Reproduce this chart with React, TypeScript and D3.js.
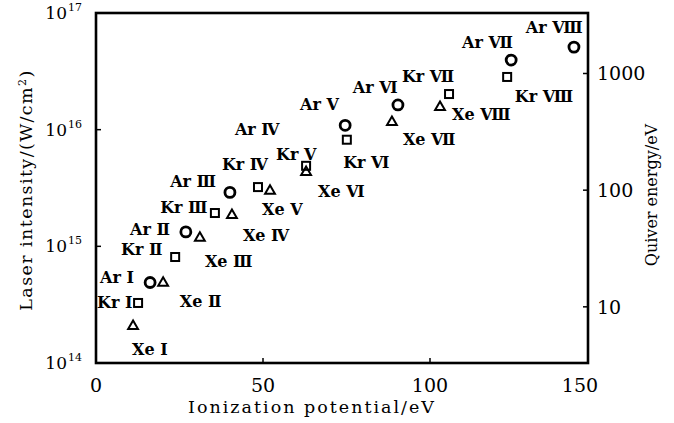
import * as d3 from "d3";

// ionization potential (eV) and threshold intensity (W/cm^2)
const arIp = [16.2, 26.9, 40.1, 74.6, 90.4, 124.3, 143.1];
const arI = [4.9e14, 1.33e15, 2.9e15, 1.09e16, 1.63e16, 3.95e16, 5.1e16];

const krIp = [12.6, 23.7, 35.6, 48.5, 62.9, 75.1, 105.7, 123.1];
const krI = [3.27e14, 8.1e14, 1.93e15, 3.22e15, 4.9e15, 8.2e15, 2.02e16, 2.83e16];

const xeIp = [11.1, 20.1, 31.1, 40.7, 52.1, 62.9, 88.6, 103.0];
const xeI = [2.07e14, 4.85e14, 1.18e15, 1.85e15, 2.98e15, 4.33e15, 1.16e16, 1.56e16];

// ion labels, anchored (left, baseline) in data units
const labelText = [
  "Ar Ⅰ", "Kr Ⅰ", "Xe Ⅰ", "Ar Ⅱ", "Kr Ⅱ", "Xe Ⅱ", "Ar Ⅲ", "Kr Ⅲ",
  "Xe Ⅲ", "Xe Ⅳ", "Xe Ⅴ", "Kr Ⅳ", "Ar Ⅳ", "Kr Ⅴ", "Ar Ⅴ", "Kr Ⅵ",
  "Xe Ⅵ", "Ar Ⅵ", "Kr Ⅶ", "Xe Ⅶ", "Xe Ⅷ", "Ar Ⅶ", "Kr Ⅷ", "Ar Ⅷ",
];
const labelIp = [
  1.2, 0.3, 10.8, 10.2, 7.5, 25.1, 22.2, 19.2,
  32.6, 44.0, 49.7, 37.7, 41.6, 53.9, 61.1, 74.0,
  66.5, 76.9, 91.6, 91.9, 106.6, 109.6, 125.4, 128.7,
];
const labelI = [
  4.85e14, 2.96e14, 1.17e14, 1.25e15, 8.4e14, 3.02e14, 3.22e15, 1.93e15,
  6.65e14, 1.11e15, 1.85e15, 4.51e15, 9.0e15, 5.48e15, 1.47e16, 4.69e15,
  2.64e15, 2.06e16, 2.56e16, 7.38e15, 1.21e16, 5.0e16, 1.72e16, 6.73e16,
];

const xTicks = [0, 50, 100, 150];
const yTicks = [1e14, 1e15, 1e16, 1e17];
const yTickExp = ["14", "15", "16", "17"];
const quiverTicks = [10, 100, 1000];

const W = 674;
const H = 423;
const left = 96, right = 588, top = 13, bottom = 363;
const FONT = "'DejaVu Serif', 'Liberation Serif', serif";

export default function App() {
  const x = d3.scaleLinear().domain([0, 100]).range([left, 430]);
  const y = d3.scaleLog().domain([1e14, 1e17]).range([bottom, top]);
  const q = d3.scaleLog().domain([3.3, 3300]).range([bottom, top]);

  const tri = d3.symbol().type(d3.symbolTriangle).size(42)();

  return (
    <svg
      width={W}
      height={H}
      style={{ position: "absolute", left: 0, top: 0, background: "#fff" }}
      fontFamily={FONT}
    >
      {/* frame */}
      <rect
        x={left}
        y={top}
        width={right - left}
        height={bottom - top}
        fill="none"
        stroke="#000"
        strokeWidth={2.6}
      />

      {/* x axis */}
      {xTicks.map((t) => (
        <g key={t}>
          {t > 0 && x(t) < right && (
            <line x1={x(t)} x2={x(t)} y1={bottom} y2={bottom - 5} stroke="#000" strokeWidth={1.5} />
          )}
          <text
            x={Math.min(x(t), right - 8)}
            y={392}
            textAnchor="middle"
            fontSize={19}
          >
            {t}
          </text>
        </g>
      ))}
      <text x={312} y={413} textAnchor="middle" fontSize={17.5} letterSpacing={2}>
        Ionization potential/eV
      </text>

      {/* left axis */}
      {yTicks.map((t, i) => (
        <g key={t}>
          <line x1={left} x2={left + 5} y1={y(t)} y2={y(t)} stroke="#000" strokeWidth={1.5} />
          <text x={67} y={y(t) + 6} textAnchor="end" fontSize={17}>
            10
          </text>
          <text x={68} y={y(t) - 2} fontSize={11}>
            {yTickExp[i]}
          </text>
        </g>
      ))}
      <text
        transform={`translate(32,190) rotate(-90)`}
        textAnchor="middle"
        fontSize={17.5}
        letterSpacing={1.4}
      >
        Laser intensity/(W/cm<tspan dy={-6} fontSize={11}>2</tspan>
        <tspan dy={6}>)</tspan>
      </text>

      {/* right axis */}
      {quiverTicks.map((t) => (
        <g key={t}>
          <line x1={right} x2={right - 5} y1={q(t)} y2={q(t)} stroke="#000" strokeWidth={1.5} />
          <text x={597} y={q(t) + 7} fontSize={19}>
            {t}
          </text>
        </g>
      ))}
      <text
        transform={`translate(657,195) rotate(-90)`}
        textAnchor="middle"
        fontSize={16}
      >
        Quiver energy/eV
      </text>

      {/* Ar: circles */}
      {arIp.map((ip, i) => (
        <circle
          key={"ar" + i}
          cx={x(ip)}
          cy={y(arI[i])}
          r={5}
          fill="none"
          stroke="#000"
          strokeWidth={2.8}
        />
      ))}

      {/* Kr: squares */}
      {krIp.map((ip, i) => (
        <rect
          key={"kr" + i}
          x={x(ip) - 4}
          y={y(krI[i]) - 4}
          width={8}
          height={8}
          fill="none"
          stroke="#000"
          strokeWidth={2}
        />
      ))}

      {/* Xe: triangles */}
      {xeIp.map((ip, i) => (
        <path
          key={"xe" + i}
          d={tri}
          transform={`translate(${x(ip)},${y(xeI[i])})`}
          fill="none"
          stroke="#000"
          strokeWidth={2}
        />
      ))}

      {/* ion labels */}
      {labelText.map((s, i) => (
        <text key={s} x={x(labelIp[i])} y={y(labelI[i])} fontSize={16} fontWeight="bold">
          {s}
        </text>
      ))}
    </svg>
  );
}
